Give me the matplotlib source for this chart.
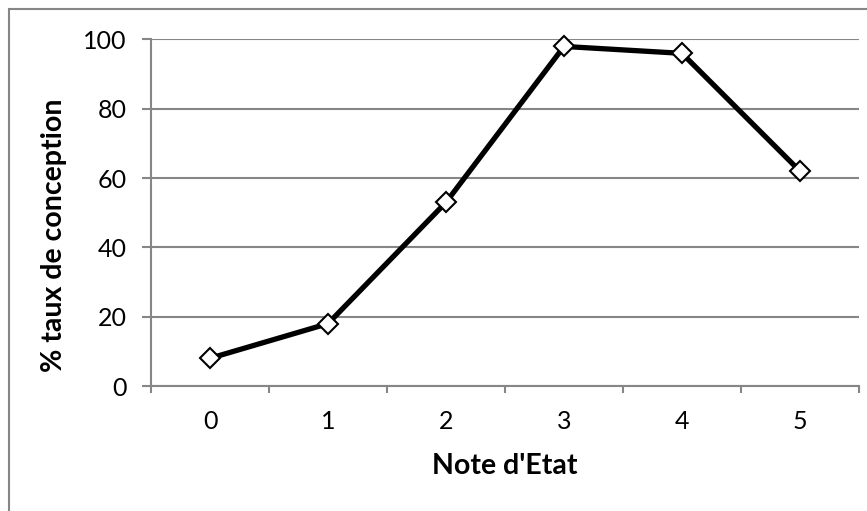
import matplotlib
matplotlib.use('Agg')
import matplotlib.pyplot as plt
import numpy as np
from matplotlib.patches import Rectangle

# valeurs
notes = ['0', '1', '2', '3', '4', '5']
taux = [8, 18, 53, 98, 96, 62]
y_ticks = [0, 20, 40, 60, 80, 100]

plt.rcParams['font.family'] = ['Lato', 'DejaVu Sans']

W, H = 867, 511
fig = plt.figure(figsize=(W / 100, H / 100), dpi=100)
ax = fig.add_axes([151 / W, 125 / H, 708 / W, 346.5 / H])

gris = '#868686'
pos = np.arange(len(notes))

ax.plot(pos, taux, color='black', linewidth=3.8, marker='D', markersize=10,
        markerfacecolor='white', markeredgecolor='black', markeredgewidth=1.5,
        zorder=3, clip_on=False)

ax.set_xlim(-0.5, len(notes) - 0.5)
ax.set_ylim(0, 100)
ax.set_yticks(y_ticks)
ax.set_xticks(pos)
ax.set_xticklabels(notes)
ax.set_xticks(np.arange(-0.5, len(notes), 1), minor=True)

ax.yaxis.grid(True, color=gris, linewidth=1.5)
ax.set_axisbelow(True)

for s in ['top', 'right']:
    ax.spines[s].set_visible(False)
for s in ['left', 'bottom']:
    ax.spines[s].set_color(gris)
    ax.spines[s].set_linewidth(1.5)

ax.tick_params(axis='y', which='major', length=6.5, width=1.5, color=gris,
               labelsize=18, pad=11)
ax.tick_params(axis='x', which='major', length=0, labelsize=18, pad=17)
ax.tick_params(axis='x', which='minor', length=5, width=1.5, color=gris)

# titres des axes
fig.text(505 / W, 1 - 466 / H, "Note d'Etat", fontsize=20.5, fontweight='bold',
         ha='center', va='center')
fig.text(54 / W, 1 - 235 / H, '% taux de conception', fontsize=20.5,
         fontweight='bold', rotation=90, ha='center', va='center')

# cadre du graphique
fig.add_artist(Rectangle((9 / W, -0.1), 1.2, 1.1 - 9 / H, transform=fig.transFigure,
                         fill=False, edgecolor=gris, linewidth=1.5))

fig.savefig('out.png', dpi=100)
